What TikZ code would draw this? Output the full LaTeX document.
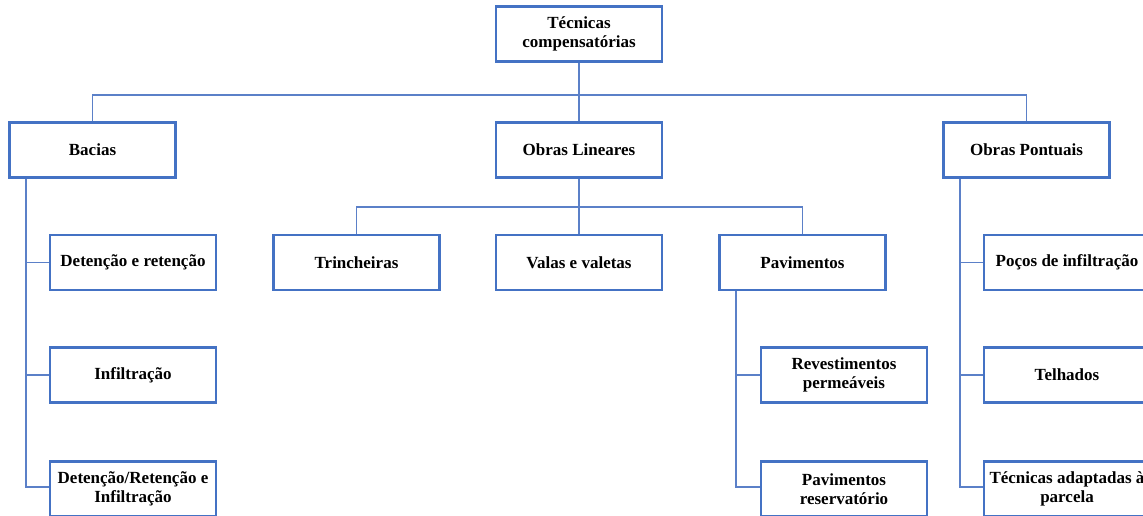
\documentclass[tikz,border=0pt]{standalone}
\usepackage{fontspec}
\setmainfont{Liberation Serif}
\definecolor{boxblue}{HTML}{4472C4}
\definecolor{linkblue}{HTML}{5B80C8}
\begin{document}
\begin{tikzpicture}[x=1pt,y=-1pt,
  box/.style={draw=boxblue, line width=2.4pt, fill=white, minimum width=166pt, minimum height=55pt,
    align=center, inner sep=2pt, font=\bfseries\fontsize{17}{19}\selectfont},
  link/.style={draw=linkblue, line width=1.5pt}]
\useasboundingbox (0,0) rectangle (1143,515);
\clip (0,0) rectangle (1143,515);
\fill[white] (0,0) rectangle (1143,515);

% bus junctions
\coordinate (b1) at (579,95);
\coordinate (b2) at (579,207);

% root and first level
\node[box] (top) at (579,34) {Técnicas\\compensatórias};
\node[box] (bacias) at (92.5,150) {Bacias};
\node[box] (lineares) at (579,150) {Obras Lineares};
\node[box] (pontuais) at (1026.5,150) {Obras Pontuais};

% Bacias
\node[box] (det) at (133,262.5) {Detenção e retenção};
\node[box] (inf) at (133,375) {Infiltração};
\node[box] (detinf) at (133,489) {Detenção/Retenção e\\Infiltração};

% Obras Lineares
\node[box] (trin) at (356.5,262.5) {Trincheiras};
\node[box] (valas) at (579,262.5) {Valas e valetas};
\node[box] (pav) at (802.5,262.5) {Pavimentos};

% Pavimentos
\node[box] (rev) at (844,375) {Revestimentos\\permeáveis};
\node[box] (pavres) at (844,489) {Pavimentos\\reservatório};

% Obras Pontuais
\node[box] (pocos) at (1067,262.5) {Poços de infiltração};
\node[box] (telh) at (1067,375) {Telhados};
\node[box] (tecad) at (1067,489) {Técnicas adaptadas à\\parcela};

% connectors
\draw[link] (top.south) -- (b1);
\draw[link] (bacias.north) |- (b1) -| (pontuais.north);
\draw[link] (b1) -- (lineares.north);

\draw[link] (lineares.south) -- (b2) -- (valas.north);
\draw[link] (trin.north) |- (b2) -| (pav.north);

\draw[link] ([xshift=17.5pt]bacias.south west) |- (det.west);
\draw[link] ([xshift=17.5pt]bacias.south west) |- (inf.west);
\draw[link] ([xshift=17.5pt]bacias.south west) |- ([yshift=2pt]detinf.west);

\draw[link] ([xshift=17.5pt]pav.south west) |- (rev.west);
\draw[link] ([xshift=17.5pt]pav.south west) |- ([yshift=2pt]pavres.west);

\draw[link] ([xshift=17.5pt]pontuais.south west) |- (pocos.west);
\draw[link] ([xshift=17.5pt]pontuais.south west) |- (telh.west);
\draw[link] ([xshift=17.5pt]pontuais.south west) |- ([yshift=2pt]tecad.west);
\end{tikzpicture}
\end{document}
